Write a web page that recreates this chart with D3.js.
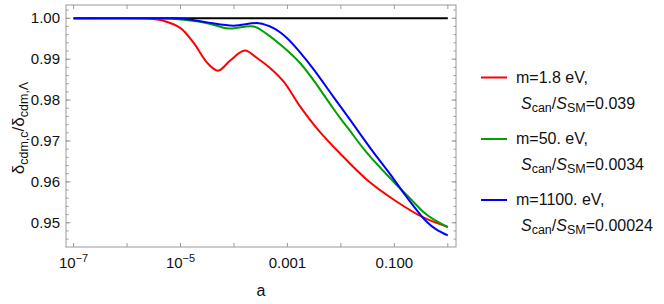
<!DOCTYPE html>
<html>
<head>
<meta charset="utf-8">
<script src="https://cdn.jsdelivr.net/npm/d3@7"></script>
<style>
  html, body { margin: 0; padding: 0; background: #fff; }
  svg { display: block; font-family: "Liberation Sans", Arial, sans-serif; }
</style>
</head>
<body>
<svg id="chart" width="664" height="304"></svg>
<script>
// ---- data (x given as log10(a)) ----
const seriesNames = ["m=1.8 eV,", "m=50. eV,", "m=1100. eV,"];
const seriesRatios = ["0.039", "0.0034", "0.00024"];
const seriesColors = ["#ff0000", "#00a000", "#0000ff"];

const redLogA = [-7, -6, -5.6, -5.32, -5.0, -4.75, -4.5, -4.3, -4.06, -3.8, -3.57, -3.32, -3.07, -2.76, -2.45, -2.02, -1.52, -0.96, -0.46, 0];
const redVal  = [1.0, 1.0, 0.99995, 0.9994, 0.9976, 0.9939, 0.9891, 0.9872, 0.9898, 0.9921, 0.9903, 0.9878, 0.9845, 0.9784, 0.9731, 0.9670, 0.9606, 0.9552, 0.9513, 0.9490];

const greenLogA = [-7, -5.5, -5.1, -4.5, -4.1, -3.63, -3.39, -3.1, -2.76, -2.51, -2.2, -2.02, -1.86, -1.52, -1.02, -0.71, -0.4, 0];
const greenVal  = [1.0, 1.0, 0.9998, 0.9988, 0.9975, 0.9980, 0.9962, 0.9932, 0.9890, 0.9848, 0.9790, 0.9757, 0.9730, 0.9672, 0.9601, 0.9560, 0.9520, 0.9489];

const blueLogA = [-7, -5.3, -4.95, -4.5, -4.01, -3.54, -3.26, -3.01, -2.76, -2.51, -2.14, -1.83, -1.39, -1.08, -0.77, -0.4, -0.21, 0];
const blueVal  = [1.0, 1.0, 0.9999, 0.9990, 0.9982, 0.9988, 0.9976, 0.9952, 0.9916, 0.9875, 0.9808, 0.9752, 0.9672, 0.9619, 0.9563, 0.9503, 0.9483, 0.9469];

const refLogA = [-7, 0];
const refVal = [1.0, 1.0];

const xTickExp = [-7, -6, -5, -4, -3, -2, -1, 0];
const xTickLabels = {"-7": ["10", "−7"], "-5": ["10", "−5"], "-3": ["0.001"], "-1": ["0.100"]};
const yTicks = [0.95, 0.96, 0.97, 0.98, 0.99, 1.00];
const yMinorTicks = d3.range(0.944, 1.0035, 0.002);

// ---- layout ----
const svg = d3.select("#chart");
const L = 66, R = 456, T = 5, B = 247;
const x = d3.scaleLog().domain([Math.pow(10, -7.142), Math.pow(10, 0.153)]).range([L, R]);
const y = d3.scaleLinear().domain([0.94407, 1.00325]).range([B, T]);

const frameColor = "#9a9a9a";
const fs = 15;

// curves
const line = d3.line().x(d => x(Math.pow(10, d[0]))).y(d => y(d[1])).curve(d3.curveCatmullRom.alpha(0.5));
const g = svg.append("g");
g.append("path").datum(d3.zip(refLogA, refVal)).attr("d", line)
  .attr("fill", "none").attr("stroke", "#000").attr("stroke-width", 2);
[[redLogA, redVal], [greenLogA, greenVal], [blueLogA, blueVal]].forEach((s, i) => {
  g.append("path").datum(d3.zip(s[0], s[1])).attr("d", line)
    .attr("fill", "none").attr("stroke", seriesColors[i]).attr("stroke-width", 2)
    .attr("stroke-linejoin", "round");
});

// frame
svg.append("rect").attr("x", L).attr("y", T).attr("width", R - L).attr("height", B - T)
  .attr("fill", "none").attr("stroke", frameColor).attr("stroke-width", 1);

// x ticks (bottom and top)
const xt = svg.append("g");
xTickExp.forEach(e => {
  const px = x(Math.pow(10, e));
  xt.append("line").attr("x1", px).attr("x2", px).attr("y1", B).attr("y2", B - 4).attr("stroke", frameColor);
  xt.append("line").attr("x1", px).attr("x2", px).attr("y1", T).attr("y2", T + 4).attr("stroke", frameColor);
  const lab = xTickLabels[String(e)];
  if (lab) {
    const t = xt.append("text").attr("x", px).attr("y", B + 21).attr("text-anchor", "middle")
      .attr("font-size", fs).attr("fill", "#111");
    t.append("tspan").text(lab[0]);
    if (lab[1]) t.append("tspan").attr("dy", -6).attr("font-size", 11).text(lab[1]);
  }
});

// y ticks (left and right)
const yt = svg.append("g");
yMinorTicks.forEach(v => {
  const py = y(v);
  if (py < T || py > B) return;
  yt.append("line").attr("x1", L).attr("x2", L + 2.5).attr("y1", py).attr("y2", py).attr("stroke", frameColor);
  yt.append("line").attr("x1", R).attr("x2", R - 2.5).attr("y1", py).attr("y2", py).attr("stroke", frameColor);
});
yTicks.forEach(v => {
  const py = y(v);
  yt.append("line").attr("x1", L).attr("x2", L + 4.5).attr("y1", py).attr("y2", py).attr("stroke", frameColor);
  yt.append("line").attr("x1", R).attr("x2", R - 4.5).attr("y1", py).attr("y2", py).attr("stroke", frameColor);
  yt.append("text").attr("x", L - 6).attr("y", py + 5).attr("text-anchor", "end")
    .attr("font-size", fs).attr("fill", "#111").text(v.toFixed(2));
});

// axis labels
svg.append("text").attr("x", (L + R) / 2 + 0).attr("y", 296).attr("text-anchor", "middle")
  .attr("font-size", 16).attr("fill", "#111").text("a");

const yl = svg.append("text").attr("transform", "translate(24," + ((T + B) / 2 + 2) + ") rotate(-90)")
  .attr("text-anchor", "middle").attr("font-size", 17).attr("fill", "#111");
yl.append("tspan").text("δ");
yl.append("tspan").attr("dy", 4).attr("font-size", 12.5).text("cdm,c");
yl.append("tspan").attr("dy", -4).text("/δ");
yl.append("tspan").attr("dy", 4).attr("font-size", 12.5).text("cdm,Λ");

// legend
const lg = svg.append("g");
const legY = [77.5, 139, 200];
const lfs = 16;
seriesNames.forEach((name, i) => {
  const cy = legY[i];
  lg.append("line").attr("x1", 481).attr("x2", 507).attr("y1", cy).attr("y2", cy)
    .attr("stroke", seriesColors[i]).attr("stroke-width", 2);
  lg.append("text").attr("x", 516).attr("y", cy + 5).attr("font-size", lfs).attr("fill", "#111").text(name);
  const t2 = lg.append("text").attr("x", 521).attr("y", cy + 31).attr("font-size", lfs).attr("fill", "#111");
  t2.append("tspan").attr("font-style", "italic").text("S");
  t2.append("tspan").attr("dy", 3).attr("font-size", 12.5).text("can");
  t2.append("tspan").attr("dy", -3).text("/");
  t2.append("tspan").attr("font-style", "italic").text("S");
  t2.append("tspan").attr("dy", 3).attr("font-size", 12.5).text("SM");
  t2.append("tspan").attr("dy", -3).text("=" + seriesRatios[i]);
});
</script>
</body>
</html>
